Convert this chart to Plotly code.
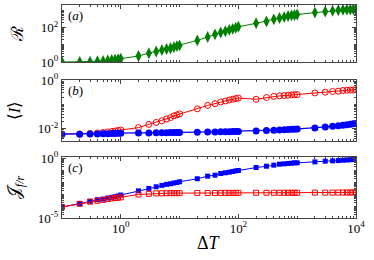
import plotly.graph_objects as go

# Delta T values
dT = [0.1, 0.2, 0.3, 0.4, 0.5, 0.6, 0.7, 0.8, 0.9, 1,
      2, 3, 4, 5, 6, 7, 8, 9, 10,
      20, 30, 40, 50, 60, 70, 80, 90, 100,
      200, 300, 400, 500, 600, 700, 800, 900, 1000,
      2000, 3000, 4000, 5000, 6000, 7000, 8000, 9000, 10000]

# (a) log10 R
logR = [0.0, 0.0, 0.02, 0.04, 0.06, 0.09, 0.12, 0.14, 0.16, 0.19,
        0.35, 0.51, 0.61, 0.69, 0.75, 0.80, 0.86, 0.92, 0.96,
        1.25, 1.45, 1.60, 1.71, 1.78, 1.86, 1.92, 1.98, 2.04,
        2.24, 2.35, 2.47, 2.55, 2.60, 2.66, 2.70, 2.72, 2.75,
        2.86, 2.92, 2.96, 3.00, 3.02, 3.03, 3.04, 3.05, 3.05]

# (b) log10 <I>
logI_red = [-2.22, -2.21, -2.19, -2.17, -2.15, -2.13, -2.11, -2.09, -2.07, -2.05,
            -1.95, -1.82, -1.74, -1.67, -1.60, -1.54, -1.47, -1.43, -1.39,
            -1.18, -1.04, -0.97, -0.90, -0.86, -0.82, -0.79, -0.76, -0.74,
            -0.79, -0.72, -0.67, -0.65, -0.64, -0.625, -0.61, -0.60, -0.60,
            -0.53, -0.50, -0.47, -0.46, -0.43, -0.42, -0.41, -0.41, -0.40]
logI_blue = [-2.22, -2.22, -2.21, -2.21, -2.20, -2.20, -2.19, -2.19, -2.18, -2.18,
             -2.17, -2.17, -2.16, -2.16, -2.16, -2.15, -2.15, -2.15, -2.15,
             -2.14, -2.13, -2.13, -2.12, -2.12, -2.12, -2.11, -2.11, -2.11,
             -2.09, -2.07, -2.06, -2.05, -2.04, -2.03, -2.02, -2.02, -2.01,
             -1.97, -1.93, -1.90, -1.87, -1.85, -1.83, -1.81, -1.79, -1.78]

# (c) log10 J_{f/r}
logJ_blue = [-4.08, -3.80, -3.60, -3.47, -3.42, -3.33, -3.27, -3.22, -3.16, -3.08,
             -2.73, -2.53, -2.39, -2.27, -2.19, -2.14, -2.08, -2.03, -1.97,
             -1.72, -1.50, -1.42, -1.28, -1.22, -1.17, -1.11, -1.06, -1.03,
             -0.78, -0.67, -0.58, -0.50, -0.47, -0.44, -0.42, -0.39, -0.39,
             -0.31, -0.25, -0.22, -0.20, -0.17, -0.15, -0.13, -0.11, -0.10]
logJ_red = [-4.08, -3.81, -3.64, -3.56, -3.48, -3.42, -3.36, -3.33, -3.31, -3.27,
            -3.03, -2.98, -2.94, -2.93, -2.93, -2.92, -2.92, -2.92, -2.92,
            -2.91, -2.91, -2.91, -2.90, -2.90, -2.90, -2.90, -2.90, -2.90,
            -2.89, -2.89, -2.89, -2.89, -2.89, -2.89, -2.89, -2.89, -2.89,
            -2.88, -2.88, -2.88, -2.87, -2.87, -2.87, -2.87, -2.86, -2.86]

# tick positions (exponents) and labels
x_tick_exp = [0, 2, 4]
ya_tick_exp = [0, 2]
yb_tick_exp = [-2, 0]
yc_tick_exp = [-5, 0]

GREEN = "#008000"
RED = "#ff0000"
BLUE = "#0000ff"
AX = "#444444"
FONT = "Liberation Serif, Times New Roman, serif"


def p10(v):
    return [10 ** x for x in v]


def lab(exps):
    return ["10<sup>%s</sup>" % e for e in exps]


fig = go.Figure()

fig.add_trace(go.Scatter(x=dT, y=p10(logR), mode="lines+markers",
                         line=dict(color=GREEN, width=1),
                         marker=dict(symbol="diamond-tall", size=8.5, color=GREEN),
                         xaxis="x", yaxis="y"))
fig.add_trace(go.Scatter(x=dT, y=p10(logI_red), mode="lines+markers",
                         line=dict(color=RED, width=1),
                         marker=dict(symbol="circle-open", size=6, color=RED, line=dict(width=1)),
                         xaxis="x2", yaxis="y2"))
fig.add_trace(go.Scatter(x=dT, y=p10(logI_blue), mode="lines+markers",
                         line=dict(color=BLUE, width=1.3),
                         marker=dict(symbol="circle", size=7, color=BLUE),
                         xaxis="x2", yaxis="y2"))
fig.add_trace(go.Scatter(x=dT, y=p10(logJ_blue), mode="lines+markers",
                         line=dict(color=BLUE, width=1),
                         marker=dict(symbol="square", size=5, color=BLUE),
                         xaxis="x3", yaxis="y3"))
fig.add_trace(go.Scatter(x=dT, y=p10(logJ_red), mode="lines+markers",
                         line=dict(color=RED, width=1),
                         marker=dict(symbol="square-open", size=5, color=RED, line=dict(width=1)),
                         xaxis="x3", yaxis="y3"))

H = 213.0
def dom(top_px, bot_px):
    return [(218 - bot_px) / H, (218 - top_px) / H]

minor = dict(ticks="inside", ticklen=2, dtick="D1", tickcolor=AX, showgrid=False)
TF = dict(family=FONT, size=13, color="black")

def xax(anchor, labels):
    return dict(type="log", range=[-1, 4],
                tickmode="array", tickvals=p10(x_tick_exp), ticktext=lab(x_tick_exp),
                domain=[0, 1],
                anchor=anchor, showline=True, linecolor=AX, linewidth=1,
                mirror="allticks", ticks="inside", ticklen=4, tickcolor=AX,
                showgrid=False, zeroline=False, showticklabels=labels,
                minor=minor, tickfont=TF, automargin=False,
                ticklabeloverflow="allow", ticklabelstandoff=-2)

def yax(anchor, rng, exps, d, title):
    return dict(type="log", range=rng,
                tickmode="array", tickvals=p10(exps), ticktext=lab(exps),
                domain=d,
                anchor=anchor, showline=True, linecolor=AX, linewidth=1,
                mirror="allticks", ticks="inside", ticklen=4, tickcolor=AX,
                showgrid=False, zeroline=False,
                minor=minor, tickfont=TF, automargin=False,
                ticklabeloverflow="allow",
                title=dict(text=title, standoff=12,
                           font=dict(family=FONT, size=17, color="black")))

fig.update_layout(
    width=374, height=260,
    margin=dict(l=62, r=18, t=5, b=42),
    paper_bgcolor="white", plot_bgcolor="white",
    showlegend=False,
    hovermode=False,
    font=dict(family=FONT),
    xaxis=xax("y", False),
    xaxis2=xax("y2", False),
    xaxis3=xax("y3", True),
    yaxis=yax("x", [0, 3.3], ya_tick_exp, dom(5, 62), "ℛ"),
    yaxis2=yax("x2", [-2.5, 0], yb_tick_exp, dom(80, 141), "⟨<i>I</i>⟩"),
    yaxis3=yax("x3", [-5, 0.1], yc_tick_exp, dom(157, 218), "𝒥<sub><i>f/r</i></sub>"),
)

fig.add_annotation(text="Δ<i>T</i>", xref="paper", yref="paper",
                   x=0.5, y=-0.118, xanchor="center", yanchor="middle", showarrow=False,
                   font=dict(family=FONT, size=18, color="black"))

for txt, ax in [("(<i>a</i>)", ""), ("(<i>b</i>)", "2"), ("(<i>c</i>)", "3")]:
    fig.add_annotation(text=txt, xref="x%s domain" % ax, yref="y%s domain" % ax,
                       x=0.015, y=0.98, xanchor="left", yanchor="top", showarrow=False,
                       font=dict(family=FONT, size=13, color="black"))

fig.write_html("out.html", config={"displayModeBar": False},
               post_script="document.body.style.margin='0';document.body.style.padding='0';")
